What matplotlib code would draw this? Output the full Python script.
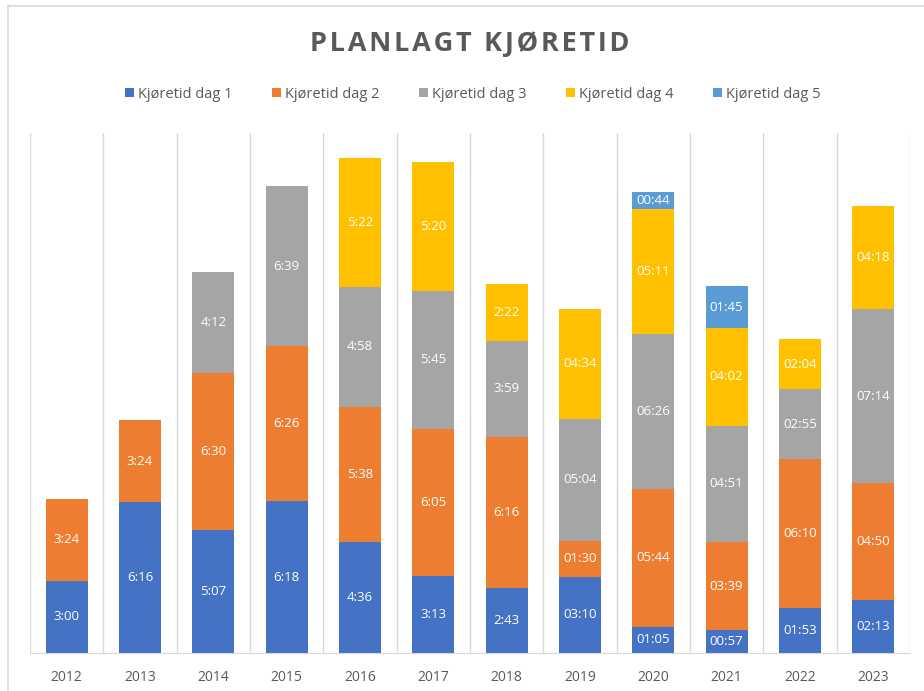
import matplotlib.pyplot as plt
import numpy as np

years = ["2012", "2013", "2014", "2015", "2016", "2017", "2018",
         "2019", "2020", "2021", "2022", "2023"]

# kjøretid per dag, som tekst (tom streng = ingen verdi)
dag1 = ["3:00", "6:16", "5:07", "6:18", "4:36", "3:13", "2:43",
        "03:10", "01:05", "00:57", "01:53", "02:13"]
dag2 = ["3:24", "3:24", "6:30", "6:26", "5:38", "6:05", "6:16",
        "01:30", "05:44", "03:39", "06:10", "04:50"]
dag3 = ["", "", "4:12", "6:39", "4:58", "5:45", "3:59",
        "05:04", "06:26", "04:51", "02:55", "07:14"]
dag4 = ["", "", "", "", "5:22", "5:20", "2:22",
        "04:34", "05:11", "04:02", "02:04", "04:18"]
dag5 = ["", "", "", "", "", "", "",
        "", "00:44", "01:45", "", ""]

series = [("Kjøretid dag 1", dag1, "#4472C4"),
          ("Kjøretid dag 2", dag2, "#ED7D31"),
          ("Kjøretid dag 3", dag3, "#A5A5A5"),
          ("Kjøretid dag 4", dag4, "#FFC000"),
          ("Kjøretid dag 5", dag5, "#5B9BD5")]


def minutes(s):
    if not s:
        return 0
    h, m = s.split(":")
    return int(h) * 60 + int(m)


plt.rcParams['font.family'] = ['Open Sans', 'DejaVu Sans']

fig = plt.figure(figsize=(9.24, 6.91), dpi=100)
ax = fig.add_axes([30 / 924, 1 - 653 / 691, 880 / 924, 520 / 691])

x = np.arange(len(years))
bottom = np.zeros(len(years))
for name, vals, col in series:
    h = np.array([minutes(v) for v in vals])
    bars = ax.bar(x, h, 0.57, bottom=bottom, color=col, label=name)
    for b, v, hv, y0 in zip(bars, vals, h, bottom):
        if not v:
            continue
        t = ax.text(b.get_x() + b.get_width() / 2, y0 + hv / 2, v,
                    ha="center", va="center", color="white", fontsize=9.5)
        t.set_clip_path(b)
    bottom += h

ax.set_xlim(-0.5, len(years) - 0.5)
ax.set_ylim(0, 1296)
ax.set_yticks([])
ax.set_xticks(x)
ax.set_xticklabels(years, fontsize=10, color="#595959")
ax.tick_params(axis="x", length=0, pad=12)
for xs in np.arange(-0.5, len(years), 1):
    ax.axvline(xs, color="#D9D9D9", lw=1, zorder=0)
for s in ["top", "left", "right"]:
    ax.spines[s].set_visible(False)
ax.spines["bottom"].set_color("#D9D9D9")

title = "\u200a".join("PLANLAGT KJØRETID")
fig.text(0.508, 1 - 44 / 691, title, ha="center", va="center",
         fontsize=19.5, fontweight="bold", color="#595959")
fig.legend(loc="center", bbox_to_anchor=(0.512, 1 - 94 / 691), ncol=5,
           frameon=False, fontsize=10.5, labelcolor="#595959",
           handlelength=0.6, handleheight=0.6, handletextpad=0.3,
           columnspacing=2.7)

# ramme rundt diagrammet
fig.add_artist(plt.Line2D([8 / 924, 8 / 924], [0, 1 - 6 / 691],
                          transform=fig.transFigure, color="#D9D9D9", lw=1.2))
fig.add_artist(plt.Line2D([8 / 924, 1], [1 - 6 / 691, 1 - 6 / 691],
                          transform=fig.transFigure, color="#D9D9D9", lw=1.2))

fig.savefig("out.png", dpi=100)
